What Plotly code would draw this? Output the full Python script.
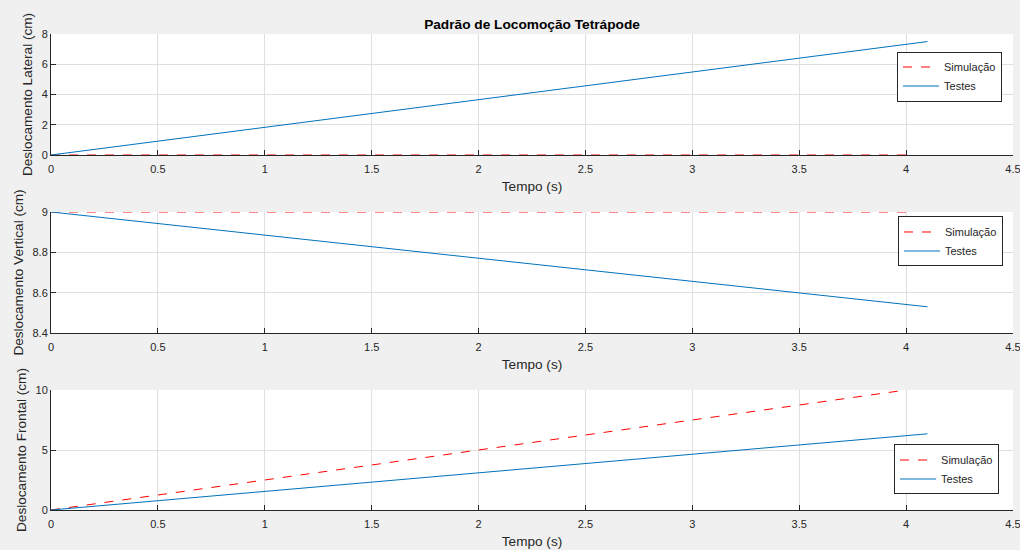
import plotly.graph_objects as go
from plotly.subplots import make_subplots

# Tempo (s)
t_sim = [0.0, 4.0]
t_test = [0.0, 4.1]

# Deslocamento lateral (cm)
lat_sim = [0.0, 0.0]
lat_test = [0.0, 7.5]

# Deslocamento vertical (cm)
vert_sim = [9.0, 9.0]
vert_test = [9.0, 8.53]

# Deslocamento frontal (cm)
front_sim = [0.0, 10.0]
front_test = [0.0, 6.35]

x_ticks = [0, 0.5, 1, 1.5, 2, 2.5, 3, 3.5, 4, 4.5]
x_labels = ["0", "0.5", "1", "1.5", "2", "2.5", "3", "3.5", "4", "4.5"]

panels = [
    ("Deslocamento Lateral (cm)", lat_sim, lat_test, [0, 8], [0, 2, 4, 6, 8], ["0", "2", "4", "6", "8"]),
    ("Deslocamento Vertical (cm)", vert_sim, vert_test, [8.4, 9.0], [8.4, 8.6, 8.8, 9.0], ["8.4", "8.6", "8.8", "9"]),
    ("Deslocamento Frontal (cm)", front_sim, front_test, [0, 10], [0, 5, 10], ["0", "5", "10"]),
]

SIM_COLOR = "#FF0000"
TEST_COLOR = "#0072BD"
AX_COLOR = "#262626"
GRID_COLOR = "#dfdfdf"
FONT = "Liberation Sans, Arial, sans-serif"

fig = make_subplots(rows=3, cols=1, shared_xaxes=False)

domains = [[0.7458, 1.0], [0.3718, 0.6261], [0.0, 0.2521]]
legend_pos = [(0.9886, 0.9107), (0.9896, 0.5641), (0.9855, 0.0851)]
legend_names = ["legend", "legend2", "legend3"]

for i, (ytitle, ysim, ytest, yr, yt, yl) in enumerate(panels):
    row = i + 1
    lg = legend_names[i]
    fig.add_trace(go.Scatter(x=t_sim, y=ysim, mode="lines", name="Simulação",
                             line=dict(color=SIM_COLOR, width=1, dash="dash"),
                             legend=lg), row=row, col=1)
    fig.add_trace(go.Scatter(x=t_test, y=ytest, mode="lines", name="Testes",
                             line=dict(color=TEST_COLOR, width=1),
                             legend=lg), row=row, col=1)
    fig.update_xaxes(range=[0, 4.5], tickvals=x_ticks, ticktext=x_labels,
                     showgrid=True, gridcolor=GRID_COLOR, gridwidth=1,
                     showline=True, linecolor=AX_COLOR, linewidth=1,
                     ticks="inside", ticklen=5, tickcolor=AX_COLOR,
                     tickfont=dict(size=11, color=AX_COLOR, family=FONT),
                     ticklabeloverflow="allow", ticklabelstandoff=4,
                     title=dict(text="Tempo (s)", font=dict(size=13.6, color=AX_COLOR, family=FONT), standoff=7),
                     zeroline=False, automargin=False, row=row, col=1)
    fig.update_yaxes(range=yr, tickvals=yt, ticktext=yl, domain=domains[i],
                     showgrid=True, gridcolor=GRID_COLOR, gridwidth=1,
                     showline=True, linecolor=AX_COLOR, linewidth=1,
                     ticks="inside", ticklen=5, tickcolor=AX_COLOR,
                     tickfont=dict(size=11, color=AX_COLOR, family=FONT),
                     title=dict(text=ytitle, font=dict(size=13.6, color=AX_COLOR, family=FONT), standoff=5),
                     zeroline=False, automargin=False, row=row, col=1)

legend_style = dict(bgcolor="white", bordercolor=AX_COLOR, borderwidth=1,
                    font=dict(size=11, color=AX_COLOR, family=FONT),
                    xanchor="right", yanchor="middle", itemwidth=36,
                    tracegroupgap=0)
layout_legends = {}
for name, (lx, ly) in zip(legend_names, legend_pos):
    layout_legends[name] = dict(legend_style, x=lx, y=ly, xref="paper", yref="paper")

fig.update_layout(
    template="none",
    width=1020, height=550,
    paper_bgcolor="#f0f0f0", plot_bgcolor="white",
    margin=dict(l=51, r=7, t=34, b=40),
    title=dict(text="<b>Padrão de Locomoção Tetrápode</b>", x=0.5, xref="paper", xanchor="center",
               y=1 - 24 / 550, yref="container", yanchor="middle",
               font=dict(size=13.7, color="#000000", family=FONT)),
    showlegend=True,
    **layout_legends,
)

fig.write_html("out.html")
